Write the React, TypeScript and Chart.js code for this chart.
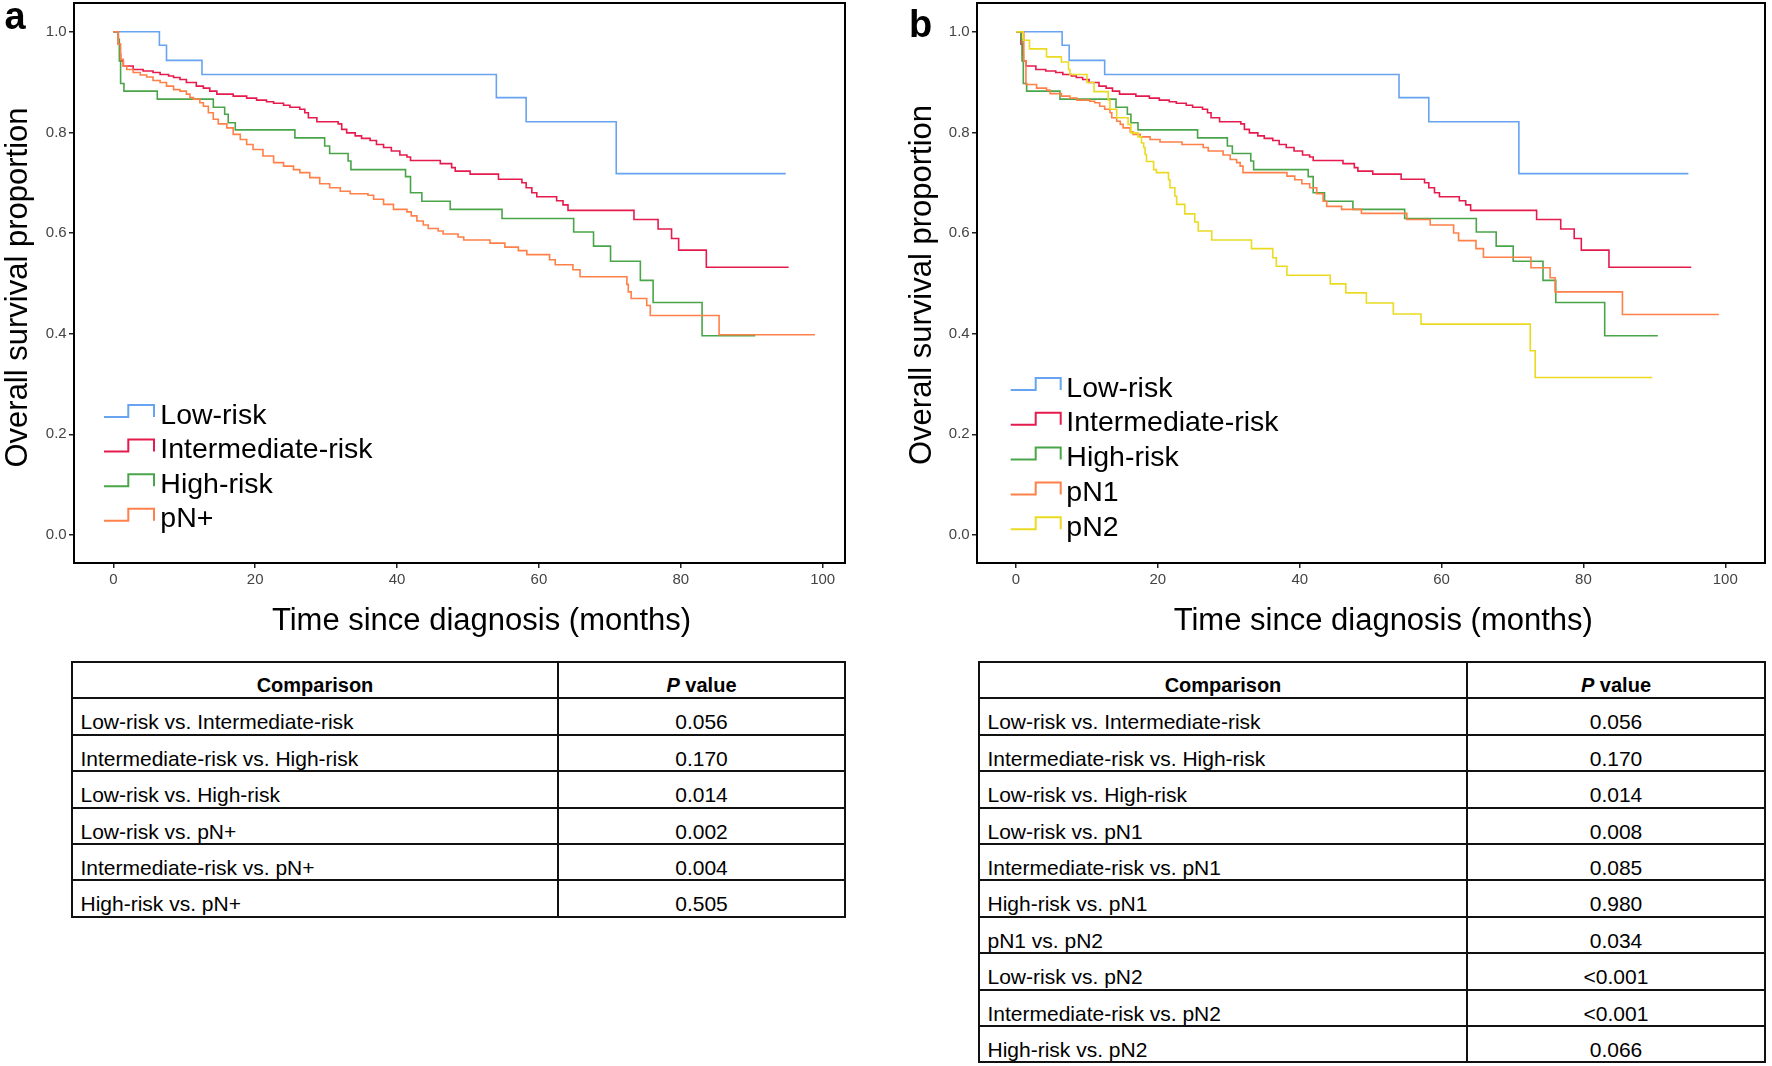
import React, { useEffect, useRef } from 'react';
import { Chart, registerables } from 'chart.js';

Chart.register(...registerables);

const FONT = '"Liberation Sans", Arial, Helvetica, sans-serif';

// ---------- data (months, survival proportion) ----------
const lowRiskTimes = [0, 6.5, 7.5, 12.5, 54.0, 58.2, 70.9, 94.8];
const lowRiskSurv = [1.0, 0.973, 0.943, 0.915, 0.869, 0.821, 0.718, 0.718];

const interRiskTimes = [0, 0.7, 0.94, 1.03, 1.41, 2.8, 4.2, 5.6, 6.6, 7.8, 8.5, 9.4, 10.3, 11.7, 12.7, 13.6, 14.6, 16.9, 18.8, 20.2, 21.6, 22.6, 24.0, 24.9, 26.3, 27.0, 27.5, 28.7, 31.7, 32.2, 32.9, 34.1, 35.0, 36.2, 37.1, 38.1, 39.2, 40.4, 41.4, 41.9, 46.1, 47.7, 48.2, 50.3, 54.3, 57.6, 58.2, 59.0, 59.7, 62.5, 63.4, 64.1, 73.4, 76.8, 78.7, 79.7, 83.6, 95.2];
const interRiskSurv = [1.0, 0.975, 0.955, 0.942, 0.932, 0.925, 0.922, 0.919, 0.915, 0.912, 0.909, 0.905, 0.899, 0.892, 0.888, 0.882, 0.876, 0.872, 0.868, 0.864, 0.861, 0.858, 0.854, 0.850, 0.846, 0.839, 0.829, 0.821, 0.817, 0.806, 0.799, 0.793, 0.788, 0.784, 0.776, 0.770, 0.763, 0.755, 0.751, 0.744, 0.738, 0.730, 0.723, 0.717, 0.707, 0.700, 0.690, 0.680, 0.672, 0.664, 0.656, 0.645, 0.627, 0.608, 0.589, 0.566, 0.532, 0.532];

const highRiskTimes = [0, 0.7, 0.85, 1.03, 1.5, 6.2, 14.1, 15.7, 16.2, 17.2, 25.6, 29.8, 30.5, 33.1, 33.5, 41.2, 41.9, 43.5, 47.5, 54.8, 64.9, 67.7, 70.1, 74.3, 76.1, 83.0, 90.5];
const highRiskSurv = [1.0, 0.985, 0.942, 0.897, 0.882, 0.866, 0.850, 0.836, 0.819, 0.805, 0.789, 0.773, 0.758, 0.743, 0.726, 0.712, 0.680, 0.663, 0.647, 0.629, 0.602, 0.574, 0.544, 0.506, 0.462, 0.396, 0.396];

const pNPlusTimes = [0, 0.7, 1.03, 1.41, 1.9, 2.8, 3.8, 4.7, 5.6, 6.6, 7.5, 8.5, 9.4, 10.3, 10.8, 11.3, 12.2, 12.7, 13.4, 14.1, 14.8, 16.0, 16.9, 17.9, 18.8, 19.7, 21.1, 22.6, 24.0, 25.4, 26.3, 27.7, 29.1, 30.5, 32.0, 33.4, 35.9, 36.7, 38.1, 39.5, 41.4, 42.0, 42.8, 43.7, 44.4, 45.8, 46.5, 48.6, 49.4, 53.1, 55.2, 57.1, 58.3, 61.5, 62.3, 64.8, 65.8, 72.4, 72.6, 73.0, 75.2, 75.7, 85.4, 98.9];
const pNPlusSurv = [1.0, 0.975, 0.945, 0.932, 0.925, 0.919, 0.914, 0.910, 0.903, 0.899, 0.892, 0.885, 0.882, 0.876, 0.869, 0.866, 0.859, 0.852, 0.839, 0.826, 0.817, 0.809, 0.796, 0.786, 0.776, 0.766, 0.753, 0.740, 0.733, 0.726, 0.720, 0.710, 0.698, 0.690, 0.683, 0.678, 0.675, 0.667, 0.657, 0.647, 0.642, 0.634, 0.624, 0.616, 0.609, 0.604, 0.598, 0.592, 0.586, 0.580, 0.572, 0.565, 0.557, 0.547, 0.537, 0.527, 0.513, 0.498, 0.483, 0.470, 0.456, 0.436, 0.398, 0.398];

const pN1Times = [0, 1.1, 1.4, 2.9, 4.3, 4.8, 6.4, 7.6, 8.6, 10.4, 11.1, 11.8, 12.5, 13.25, 13.5, 14.2, 14.7, 15.1, 16.1, 16.5, 17.5, 18.9, 20.3, 23.4, 26.4, 27.1, 29.2, 30.2, 31.1, 31.6, 32.0, 38.2, 39.3, 40.3, 41.4, 42.4, 43.3, 43.8, 45.9, 48.7, 55.1, 58.4, 61.7, 62.4, 64.85, 65.9, 72.6, 75.3, 76.0, 85.5, 99.1];
const pN1Surv = [1.0, 0.942, 0.895, 0.888, 0.884, 0.877, 0.872, 0.868, 0.864, 0.862, 0.859, 0.852, 0.846, 0.839, 0.829, 0.822, 0.816, 0.809, 0.801, 0.796, 0.791, 0.786, 0.781, 0.776, 0.770, 0.763, 0.755, 0.746, 0.740, 0.733, 0.720, 0.713, 0.706, 0.698, 0.690, 0.678, 0.663, 0.653, 0.647, 0.639, 0.627, 0.616, 0.600, 0.585, 0.569, 0.552, 0.531, 0.511, 0.483, 0.438, 0.438];

const pN2Times = [0, 1.0, 1.9, 4.3, 6.4, 7.4, 7.6, 10.0, 11.0, 13.0, 13.25, 14.2, 15.8, 16.2, 17.2, 17.7, 18.0, 18.2, 18.4, 19.4, 19.8, 21.5, 21.7, 22.4, 22.65, 23.8, 25.2, 25.7, 27.6, 33.2, 36.2, 36.7, 38.2, 44.3, 46.5, 49.4, 53.2, 57.1, 72.5, 73.2, 89.7];
const pN2Surv = [1.0, 0.983, 0.966, 0.950, 0.940, 0.925, 0.915, 0.899, 0.881, 0.864, 0.846, 0.829, 0.816, 0.799, 0.791, 0.779, 0.770, 0.756, 0.742, 0.726, 0.720, 0.706, 0.690, 0.673, 0.657, 0.638, 0.622, 0.604, 0.586, 0.569, 0.551, 0.534, 0.516, 0.499, 0.481, 0.461, 0.439, 0.419, 0.366, 0.313, 0.313];

const xTickValues = [0, 20, 40, 60, 80, 100];
const yTickValues = [0, 0.2, 0.4, 0.6, 0.8, 1.0];

const tableAComparisons = [
  'Low-risk vs. Intermediate-risk',
  'Intermediate-risk vs. High-risk',
  'Low-risk vs. High-risk',
  'Low-risk vs. pN+',
  'Intermediate-risk vs. pN+',
  'High-risk vs. pN+',
];
const tableAPValues = ['0.056', '0.170', '0.014', '0.002', '0.004', '0.505'];

const tableBComparisons = [
  'Low-risk vs. Intermediate-risk',
  'Intermediate-risk vs. High-risk',
  'Low-risk vs. High-risk',
  'Low-risk vs. pN1',
  'Intermediate-risk vs. pN1',
  'High-risk vs. pN1',
  'pN1 vs. pN2',
  'Low-risk vs. pN2',
  'Intermediate-risk vs. pN2',
  'High-risk vs. pN2',
];
const tableBPValues = ['0.056', '0.170', '0.014', '0.008', '0.085', '0.980', '0.034', '<0.001', '<0.001', '0.066'];

// ---------- styles ----------
const C_LOW = '#67A3F0';
const C_INT = '#E61B4D';
const C_HIGH = '#4AA54A';
const C_ORANGE = '#FF8048';
const C_YELLOW = '#EADB22';

type Series = { label: string; times: number[]; surv: number[]; color: string };

const seriesA: Series[] = [
  { label: 'Low-risk', times: lowRiskTimes, surv: lowRiskSurv, color: C_LOW },
  { label: 'Intermediate-risk', times: interRiskTimes, surv: interRiskSurv, color: C_INT },
  { label: 'High-risk', times: highRiskTimes, surv: highRiskSurv, color: C_HIGH },
  { label: 'pN+', times: pNPlusTimes, surv: pNPlusSurv, color: C_ORANGE },
];

const seriesB: Series[] = [
  { label: 'Low-risk', times: lowRiskTimes, surv: lowRiskSurv, color: C_LOW },
  { label: 'Intermediate-risk', times: interRiskTimes, surv: interRiskSurv, color: C_INT },
  { label: 'High-risk', times: highRiskTimes, surv: highRiskSurv, color: C_HIGH },
  { label: 'pN1', times: pN1Times, surv: pN1Surv, color: C_ORANGE },
  { label: 'pN2', times: pN2Times, surv: pN2Surv, color: C_YELLOW },
];

type Geom = {
  canvasLeft: number;
  padLeft: number;
  padRight: number;
  xMin: number;
  xMax: number;
  letter: string;
  letterX: number;
  letterBase: number;
  yTitleX: number;
  yTitleY: number;
  xTitleX: number;
  legX0: number;
  legXm: number;
  legX1: number;
  legTextX: number;
  legBase0: number;
  legGap: number;
};

const CW = 886;
const CH = 650;

const geomA: Geom = {
  canvasLeft: 0, padLeft: 0, padRight: 41, xMin: -5.54, xMax: 103.15,
  letter: 'a', letterX: 4.5, letterBase: 28.5,
  yTitleX: 26.5, yTitleY: 287.5, xTitleX: 481.5,
  legX0: 104, legXm: 128.3, legX1: 154, legTextX: 160.3, legBase0: 423.5, legGap: 34.6,
};

const geomB: Geom = {
  canvasLeft: 886, padLeft: 17, padRight: 7, xMin: -5.5, xMax: 105.6,
  letter: 'b', letterX: 23, letterBase: 37,
  yTitleX: 45, yTitleY: 285, xTitleX: 1383.3 - 886,
  legX0: 1010.7 - 886, legXm: 1035.7 - 886, legX1: 1060.7 - 886, legTextX: 1066.3 - 886, legBase0: 396.5, legGap: 34.8,
};

function makeDecor(g: Geom, series: Series[]) {
  return {
    id: 'decor' + g.letter,
    afterDraw(chart: any) {
      const ctx = chart.ctx as CanvasRenderingContext2D;
      const a = chart.chartArea;
      ctx.save();
      // panel frame
      ctx.strokeStyle = '#000';
      ctx.lineWidth = 2;
      ctx.strokeRect(a.left, a.top, a.right - a.left, a.bottom - a.top);
      // letter
      ctx.fillStyle = '#000';
      ctx.textAlign = 'left';
      ctx.textBaseline = 'alphabetic';
      ctx.font = `bold 38px ${FONT}`;
      ctx.fillText(g.letter, g.letterX, g.letterBase);
      // x title
      ctx.font = `31px ${FONT}`;
      ctx.textAlign = 'center';
      ctx.fillText('Time since diagnosis (months)', g.xTitleX, 630);
      // y title
      ctx.save();
      ctx.translate(g.yTitleX, g.yTitleY);
      ctx.rotate(-Math.PI / 2);
      ctx.fillText('Overall survival proportion', 0, 0);
      ctx.restore();
      // legend
      series.forEach((s, i) => {
        const base = g.legBase0 + i * g.legGap;
        const low = base - 6.5;
        const high = base - 18.5;
        ctx.strokeStyle = s.color;
        ctx.lineWidth = 2;
        ctx.lineJoin = 'miter';
        ctx.beginPath();
        ctx.moveTo(g.legX0, low);
        ctx.lineTo(g.legXm, low);
        ctx.lineTo(g.legXm, high);
        ctx.lineTo(g.legX1, high);
        ctx.lineTo(g.legX1, low);
        ctx.stroke();
        ctx.fillStyle = '#000';
        ctx.font = `28.5px ${FONT}`;
        ctx.textAlign = 'left';
        ctx.fillText(s.label, g.legTextX, base);
      });
      ctx.restore();
    },
  };
}

function KMChart({ g, series }: { g: Geom; series: Series[] }) {
  const ref = useRef<HTMLCanvasElement>(null);
  useEffect(() => {
    if (!ref.current) return;
    const n = series.length;
    const chart = new Chart(ref.current, {
      type: 'line',
      data: {
        datasets: series.map((s, i) => ({
          label: s.label,
          data: s.times.map((t, k) => ({ x: t, y: s.surv[k] })),
          borderColor: s.color,
          backgroundColor: s.color,
          borderWidth: 1.6,
          pointRadius: 0,
          pointHoverRadius: 0,
          stepped: 'before' as const,
          fill: false,
          tension: 0,
          borderJoinStyle: 'miter' as const,
          order: n - i,
        })),
      },
      options: {
        responsive: false,
        animation: false,
        devicePixelRatio: 1,
        events: [],
        layout: { padding: { left: g.padLeft, right: g.padRight, top: 3, bottom: 0 } },
        plugins: {
          legend: { display: false },
          tooltip: { enabled: false },
          title: { display: false },
        },
        scales: {
          x: {
            type: 'linear',
            min: g.xMin,
            max: g.xMax,
            afterFit: (s: any) => {
              s.height = 87;
              s.paddingLeft = 0;
              s.paddingRight = 0;
            },
            afterBuildTicks: (s: any) => {
              s.ticks = xTickValues.map((v) => ({ value: v }));
            },
            ticks: {
              autoSkip: false,
              maxRotation: 0,
              padding: 2.5,
              color: '#444',
              font: { family: FONT, size: 15 },
              callback: (v: any) => String(v),
            },
            grid: {
              display: true,
              drawOnChartArea: false,
              drawTicks: true,
              tickLength: 5,
              color: '#222',
              lineWidth: 1.5,
            },
            border: { display: false },
          },
          y: {
            type: 'linear',
            min: -0.0557,
            max: 1.0571,
            afterFit: (s: any) => {
              s.width = 74;
              s.paddingTop = 0;
              s.paddingBottom = 0;
            },
            afterBuildTicks: (s: any) => {
              s.ticks = yTickValues.map((v) => ({ value: v }));
            },
            ticks: {
              autoSkip: false,
              padding: 2.3,
              color: '#444',
              font: { family: FONT, size: 15 },
              callback: (v: any) => Number(v).toFixed(1),
            },
            grid: {
              display: true,
              drawOnChartArea: false,
              drawTicks: true,
              tickLength: 5,
              color: '#222',
              lineWidth: 1.5,
            },
            border: { display: false },
          },
        },
      } as any,
      plugins: [makeDecor(g, series)],
    });
    return () => chart.destroy();
  }, [g, series]);
  return (
    <canvas
      ref={ref}
      width={CW}
      height={CH}
      style={{ position: 'absolute', left: g.canvasLeft, top: 0, width: CW, height: CH }}
    />
  );
}

const ROW_H = 36.4;

function PTable({ left, top, col1, col2, comps, pvals }: { left: number; top: number; col1: number; col2: number; comps: string[]; pvals: string[] }) {
  const nRows = comps.length + 1;
  const h = ROW_H * nRows;
  const textStyle: React.CSSProperties = {
    position: 'absolute',
    height: ROW_H,
    lineHeight: ROW_H + 'px',
    fontFamily: FONT,
    fontSize: 21,
    color: '#000',
    whiteSpace: 'nowrap',
  };
  const lines = [];
  for (let i = 1; i < nRows; i++) {
    lines.push(
      <div key={'l' + i} style={{ position: 'absolute', left: 0, width: col1 + col2, top: i * ROW_H - 1, height: 2, background: '#111' }} />
    );
  }
  return (
    <div style={{ position: 'absolute', left, top, width: col1 + col2, height: h }}>
      <div style={{ position: 'absolute', left: -1, top: -1, width: col1 + col2 + 2, height: h + 2, border: '2px solid #111', boxSizing: 'border-box' }} />
      <div style={{ position: 'absolute', left: col1 - 1, top: 0, width: 2, height: h, background: '#111' }} />
      {lines}
      <div style={{ ...textStyle, left: 0, width: col1, top: 5, textAlign: 'center', fontWeight: 'bold', fontSize: 20 }}>Comparison</div>
      <div style={{ ...textStyle, left: col1, width: col2, top: 5, textAlign: 'center', fontWeight: 'bold', fontSize: 20 }}>
        <i>P</i> value
      </div>
      {comps.map((c, i) => (
        <div key={'c' + i} style={{ ...textStyle, left: 8.5, top: (i + 1) * ROW_H + 6 }}>{c}</div>
      ))}
      {pvals.map((p, i) => (
        <div key={'p' + i} style={{ ...textStyle, left: col1, width: col2, textAlign: 'center', top: (i + 1) * ROW_H + 6 }}>{p}</div>
      ))}
    </div>
  );
}

export default function App() {
  return (
    <div style={{ position: 'absolute', left: 0, top: 0, width: 1772, height: 1066, background: '#fff', overflow: 'hidden' }}>
      <KMChart g={geomA} series={seriesA} />
      <KMChart g={geomB} series={seriesB} />
      <PTable left={72} top={662} col1={486} col2={287} comps={tableAComparisons} pvals={tableAPValues} />
      <PTable left={979} top={662} col1={488} col2={298} comps={tableBComparisons} pvals={tableBPValues} />
    </div>
  );
}
